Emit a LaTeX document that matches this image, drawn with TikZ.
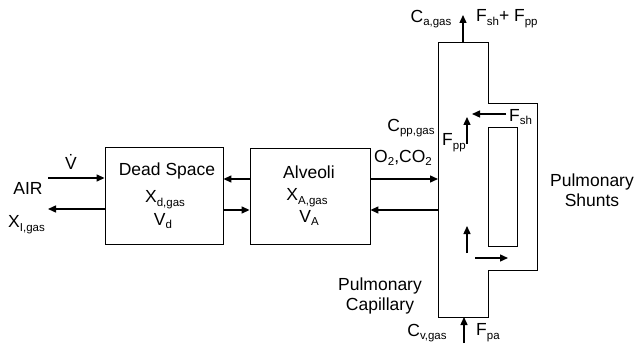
\documentclass[tikz,border=0pt]{standalone}
\usepackage{fontspec}
\setmainfont{Liberation Sans}
\usetikzlibrary{arrows.meta}
\newcommand\sbs[1]{\raisebox{-0.4ex}{\fontsize{11.5}{12}\selectfont #1}}
\begin{document}
\begin{tikzpicture}[x=1pt,y=-1pt,
  every node/.style={font=\fontsize{17.5}{20}\selectfont, inner sep=0pt},
  flow/.style={line width=1.4pt,-{Triangle[length=8pt,width=7pt]}},
  boxline/.style={line width=0.9pt},
  blk/.style={draw, line width=0.9pt}]
\useasboundingbox (0,0) rectangle (635,350);
% boxes
\node[blk, minimum width=118, minimum height=97] (ds) at (164,195.5) {};
\node[blk, minimum width=120, minimum height=96] (al) at (310,196) {};
\node (dst) at (167,171) {Dead Space};
\node (dsx) at (165,200) {X\sbs{d,gas}};
\node (dsv) at (163,221) {V\sbs{d}};
\node (alt) at (309,172) {Alveoli};
\node (alx) at (307,198) {X\sbs{A,gas}};
\node (alv) at (309,218) {V\sbs{A}};
% capillary outline
\coordinate (capL) at (438,0);
\draw[boxline] (438,42) -- (488,42) -- (488,103) -- (537,103) -- (537,270)
  -- (488,270) -- (488,317) -- (438,317) -- cycle;
\draw[boxline] (488,127) rectangle (517,246);
% left side
\coordinate (airin) at (48,178);
\coordinate (airout) at (48,209);
\draw[flow] (airin) -- (ds.west |- airin);
\draw[flow] (ds.west |- airout) -- (airout);
\node (vdot) at (71,162) {V\char"0307};
\node (air) at (28,188) {AIR};
\node[anchor=west] (xi) at (8,225) {X\sbs{I,gas}};
% between boxes
\draw[flow] (al.west |- 0,179) -- (ds.east |- 0,179);
\draw[flow] (ds.east |- 0,210) -- (al.west |- 0,210);
\draw[flow] (al.east |- 0,179) -- (capL |- 0,179);
\draw[flow] (capL |- 0,210) -- (al.east |- 0,210);
\node (gas) at (403,158) {O\sbs{2},CO\sbs{2}};
% top
\coordinate (topb) at (463,42);
\coordinate (topt) at (463,15);
\draw[flow] (topb) -- (topt);
\node (ca) at (431,19) {C\sbs{a,gas}};
\node[anchor=west] (fsum) at (476,19) {F\sbs{sh}+ F\sbs{pp}};
% inner arrows
\coordinate (fsh1) at (506,114);
\coordinate (fsh2) at (472,114);
\draw[flow] (fsh1) -- (fsh2);
\node[anchor=west] (fsh) at (509,117) {F\sbs{sh}};
\coordinate (fpp1) at (467,144);
\coordinate (fpp2) at (467,117);
\draw[flow] (fpp1) -- (fpp2);
\node[anchor=west] (fpp) at (442,143) {F\sbs{pp}};
\node (cpp) at (411,128) {C\sbs{pp,gas}};
\coordinate (lu1) at (467,253);
\coordinate (lu2) at (467,226);
\draw[flow] (lu1) -- (lu2);
\coordinate (lr1) at (475,258);
\coordinate (lr2) at (508,258);
\draw[flow] (lr1) -- (lr2);
% bottom
\coordinate (botb) at (464,343);
\coordinate (bott) at (464,317);
\draw[flow] (botb) -- (bott);
\node (cv) at (427,333) {C\sbs{v,gas}};
\node[anchor=west] (fpa) at (476,333) {F\sbs{pa}};
% labels
\node[align=center] (shunt) at (592,190) {Pulmonary\\Shunts};
\node[align=center] (capl) at (380,296) {Pulmonary\\Capillary};
\end{tikzpicture}
\end{document}
